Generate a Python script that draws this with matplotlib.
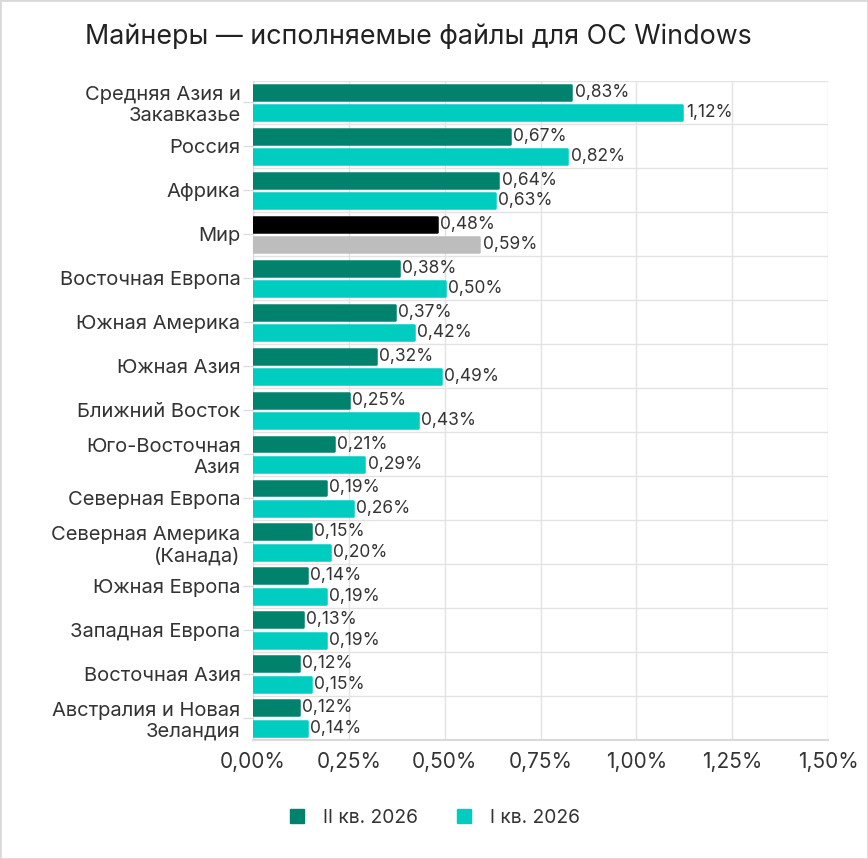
import matplotlib
matplotlib.use("Agg")
import matplotlib.pyplot as plt
import numpy as np
from matplotlib.patches import Patch

categories = ["Средняя Азия и\nЗакавказье", "Россия", "Африка", "Мир", "Восточная Европа",
              "Южная Америка", "Южная Азия", "Ближний Восток", "Юго-Восточная\nАзия",
              "Северная Европа", "Северная Америка\n(Канада)", "Южная Европа",
              "Западная Европа", "Восточная Азия", "Австралия и Новая\nЗеландия"]
q2_2026 = [0.83, 0.67, 0.64, 0.48, 0.38, 0.37, 0.32, 0.25, 0.21, 0.19, 0.15, 0.14, 0.13, 0.12, 0.12]
q1_2026 = [1.12, 0.82, 0.63, 0.59, 0.50, 0.42, 0.49, 0.43, 0.29, 0.26, 0.20, 0.19, 0.19, 0.15, 0.14]
series_names = ["II кв. 2026", "I кв. 2026"]
x_ticks = [0, 0.25, 0.5, 0.75, 1.0, 1.25, 1.5]
title = "Майнеры — исполняемые файлы для ОС Windows"

C_DARK = "#00826C"
C_LIGHT = "#00CCBF"
C_WORLD1 = "#000000"
C_WORLD2 = "#BDBDBD"
TXT = "#333333"

plt.rcParams['font.family'] = ['Inter', 'DejaVu Sans']

fig = plt.figure(figsize=(8.68, 8.59), dpi=100)
ax = fig.add_axes([253/868, 1-740/859, (828-253)/868, (740-80.5)/859])

n = len(categories)
y = np.arange(n)
h = 0.34
off = 0.232
c1 = [C_WORLD1 if c == "Мир" else C_DARK for c in categories]
c2 = [C_WORLD2 if c == "Мир" else C_LIGHT for c in categories]
b1 = ax.barh(y - off, q2_2026, height=h, color=c1, edgecolor=c1, linewidth=1.8, zorder=3)
b2 = ax.barh(y + off, q1_2026, height=h, color=c2, edgecolor=c2, linewidth=1.8, zorder=3)
for b in list(b1) + list(b2):
    b.set_joinstyle('round')

def fmt(v):
    return f"{v:.2f}%".replace(".", ",")

for yi, v in zip(y - off, q2_2026):
    ax.text(v + 0.009, yi, fmt(v), va='center', ha='left', fontsize=12.5, color=TXT, zorder=4)
for yi, v in zip(y + off, q1_2026):
    ax.text(v + 0.009, yi, fmt(v), va='center', ha='left', fontsize=12.5, color=TXT, zorder=4)

ax.set_xlim(0, 1.5)
ax.set_ylim(n - 0.5, -0.5)
ax.set_xticks(x_ticks)
ax.set_xticklabels([fmt(t) for t in x_ticks], fontsize=15, color=TXT)
ax.set_yticks(y)
ax.set_yticklabels(categories, fontsize=14.5, color=TXT, linespacing=1.2)
ax.set_yticks(np.arange(n + 1) - 0.5, minor=True)
ax.tick_params(axis='y', which='major', length=7, color="#D9D9D9", pad=2)
ax.tick_params(axis='y', which='minor', length=0)
ax.tick_params(axis='x', length=0, pad=9)
ax.grid(axis='x', which='major', color="#E3E3E3", linewidth=1, zorder=0)
ax.grid(axis='y', which='minor', color="#E3E3E3", linewidth=1, zorder=0)
for s in ['top', 'right']:
    ax.spines[s].set_visible(False)
ax.spines['left'].set_color("#D9D9D9")
ax.spines['bottom'].set_color("#D9D9D9")
ax.spines['bottom'].set_linewidth(1.5)

fig.text(418/868, 1-37/859, title, ha='center', va='center', fontsize=19.3, color="#222222")

handles = [Patch(color=C_DARK), Patch(color=C_LIGHT)]
fig.legend(handles, series_names, loc='center', bbox_to_anchor=(435/868, 1-818/859), ncol=2,
           frameon=False, fontsize=13.8, handlelength=0.75, handleheight=0.75, columnspacing=2.0,
           handletextpad=1.0, labelcolor=TXT)

fig.patches.append(plt.Rectangle((0, 0), 1, 1, transform=fig.transFigure, fill=False,
                                 edgecolor="#D9D9D9", linewidth=2))

fig.savefig("out.png", dpi=100)
